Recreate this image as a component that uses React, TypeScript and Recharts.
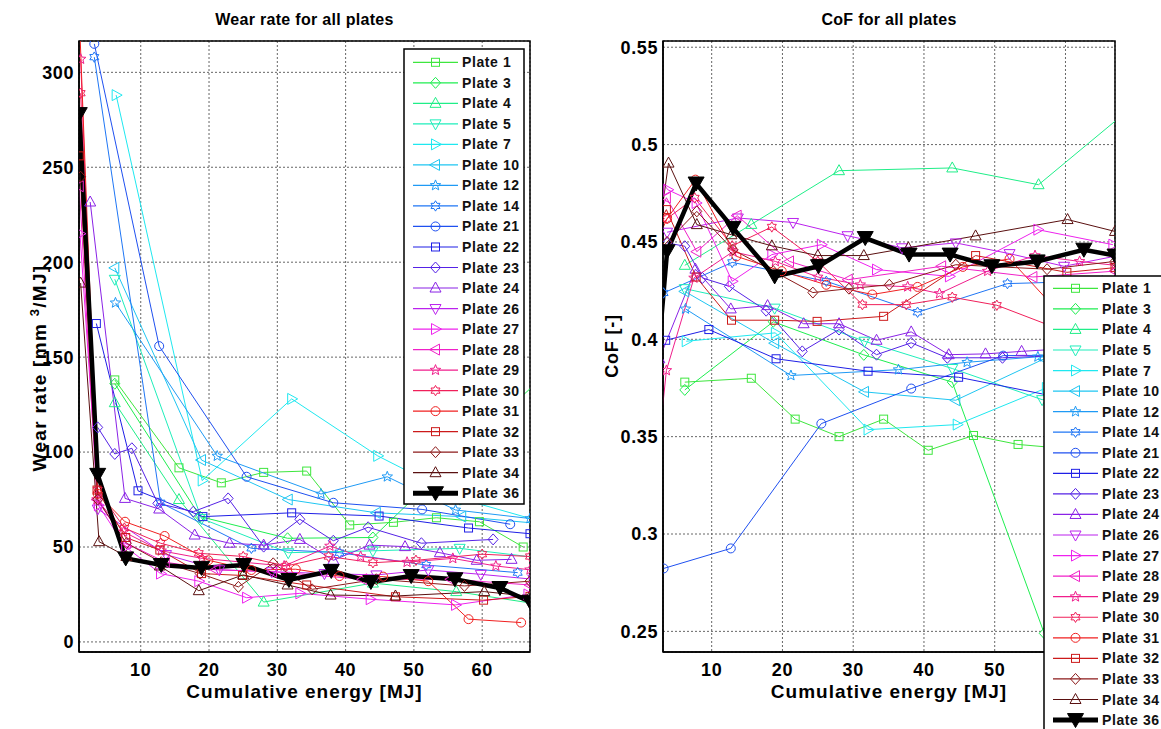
import React from 'react';
import { LineChart, Line, XAxis, YAxis, CartesianGrid, ReferenceArea } from 'recharts';

// ---------- data ----------
const xTicks = [10, 20, 30, 40, 50, 60];
const wearTicks = [0, 50, 100, 150, 200, 250, 300];
const cofTicks = [0.25, 0.3, 0.35, 0.4, 0.45, 0.5, 0.55];

const p1Energy = [6.2, 15.6, 21.8, 28.0, 34.3, 40.6, 47.0, 53.3, 59.6, 66.0];
const p1Wear = [138, 91.7, 83.8, 89.3, 90, 61.6, 63, 65.4, 63.3, 50];
const p1CoF = [0.378, 0.38, 0.359, 0.35, 0.359, 0.343, 0.3506, 0.346, 0.344, 0.342];

const p3Energy = [6.2, 18.7, 31.5, 44.0, 57.0, 69.0];
const p3Wear = [136, 66, 54.6, 55, 100, 140];
const p3CoF = [0.374, 0.409, 0.392, 0.378, 0.249, 0.26];

const p4Energy = [6.2, 15.6, 28.0, 44.0, 56.2, 68.0];
const p4Wear = [126, 75, 21, 31, 26.5, 20];
const p4CoF = [0.438, 0.459, 0.4866, 0.488, 0.4794, 0.515];

const p5Energy = [6.2, 18.9, 31.6, 44.0, 56.7, 69.0];
const p5Wear = [191, 65, 47, 48, 49.3, 44];
const p5CoF = [0.426, 0.416, 0.399, 0.385, 0.369, 0.37];

const p7Energy = [6.4, 19.0, 32.1, 44.7, 57.3, 70.0];
const p7Wear = [288, 85, 128, 98, 75, 62];
const p7CoF = [0.399, 0.4033, 0.3536, 0.3562, 0.375, 0.39];

const p10Energy = [6.2, 18.9, 31.6, 44.5, 57.0, 69.5];
const p10Wear = [197, 95.8, 75, 68, 66, 62];
const p10CoF = [0.4246, 0.398, 0.373, 0.3687, 0.39, 0.4];

const p12Energy = [6.3, 21.2, 36.4, 46.1, 56.1, 67.0];
const p12Wear = [178.6, 97.9, 77.9, 87, 69.5, 65];
const p12CoF = [0.4156, 0.3814, 0.3844, 0.3882, 0.391, 0.39];

const p14Energy = [3.2, 12.9, 26.2, 39.1, 51.8, 65.2];
const p14Wear = [308, 73.3, 49.3, 47, 40.5, 36.5];
const p14CoF = [0.4238, 0.4395, 0.4298, 0.4139, 0.4286, 0.43];

const p21Energy = [3.2, 12.7, 25.5, 38.2, 51.2, 64.1];
const p21Wear = [315, 155.8, 87, 73.3, 69.8, 62];
const p21CoF = [0.2823, 0.2926, 0.3567, 0.3747, 0.3916, 0.392];

const p22Energy = [3.5, 9.6, 19.1, 32.1, 44.9, 58.0, 67.0];
const p22Wear = [167.7, 79.6, 66, 68, 66.3, 60, 57];
const p22CoF = [0.3995, 0.405, 0.39, 0.3836, 0.3805, 0.371, 0.37];

const p23Energy = [3.7, 6.2, 8.7, 12.5, 17.7, 22.8, 28.0, 33.3, 38.2, 43.3, 51.1, 61.6];
const p23Wear = [113, 99, 102, 73, 68.6, 75.6, 50.2, 64.6, 53.3, 60.4, 52, 54];
const p23CoF = [0.4495, 0.4478, 0.4315, 0.4272, 0.4147, 0.3938, 0.405, 0.3921, 0.3982, 0.3905, 0.3905, 0.392];

const p24Energy = [2.6, 7.7, 12.7, 17.9, 23.0, 28.0, 33.3, 38.2, 43.5, 48.7, 53.8, 59.2, 64.3];
const p24Wear = [231.7, 75.6, 70, 56.3, 52, 51, 54, 43, 51, 50.2, 47, 43, 43.5];
const p24CoF = [0.39, 0.436, 0.4156, 0.4173, 0.408, 0.408, 0.3995, 0.4038, 0.3921, 0.3925, 0.3938, 0.395, 0.397];

const p26Energy = [3.7, 13.7, 21.5, 29.2, 36.9, 44.5, 52.1, 59.8, 67.5];
const p26Wear = [70, 46, 38, 37, 36, 35.3, 37.9, 35.6, 33];
const p26CoF = [0.455, 0.4623, 0.46, 0.4532, 0.447, 0.4495, 0.444, 0.4375, 0.443];

const p27Energy = [1.1, 3.8, 7.8, 12.9, 18.5, 25.5, 33.3, 43.6, 56.1, 66.7];
const p27Wear = [215, 72, 50, 36, 32, 23.3, 25.6, 22.5, 19.5, 25];
const p27CoF = [0.49, 0.4768, 0.47, 0.4298, 0.4435, 0.4486, 0.4358, 0.4323, 0.4563, 0.4486];

const p28Energy = [1.0, 3.6, 7.9, 13.6, 21.0, 29.3, 42.5, 55.4, 67.0];
const p28Wear = [240, 75, 52, 42, 38, 37, 33, 33, 30];
const p28CoF = [0.45, 0.4727, 0.445, 0.4635, 0.44, 0.4306, 0.4375, 0.432, 0.435];

const p29Energy = [1.2, 3.6, 7.5, 13.0, 19.0, 25.0, 31.0, 37.7, 42.2, 49.0, 55.7, 62.0, 67.0];
const p29Wear = [307, 75, 58, 48, 44, 42, 40, 50.5, 45, 42, 44, 40, 38];
const p29CoF = [0.3, 0.384, 0.4315, 0.445, 0.44, 0.432, 0.428, 0.427, 0.4235, 0.435, 0.443, 0.44, 0.438];

const p30Energy = [1.2, 3.7, 7.6, 12.9, 18.5, 25.0, 31.3, 37.5, 44.0, 50.3, 60.0, 67.0];
const p30Wear = [289, 80, 60, 52, 46.7, 45, 40, 45, 41.7, 43, 46.2, 45];
const p30CoF = [0.45, 0.462, 0.4726, 0.448, 0.4577, 0.44, 0.4178, 0.4178, 0.4216, 0.4175, 0.404, 0.4];

const p31Energy = [1.0, 3.7, 7.7, 13.5, 19.9, 26.2, 32.7, 39.1, 45.5, 52.1, 58.0, 65.7];
const p31Wear = [330, 78, 63.3, 55.8, 43, 37.9, 38.3, 34.7, 34.4, 32, 12, 10.2];
const p31CoF = [0.44, 0.462, 0.482, 0.4426, 0.435, 0.428, 0.423, 0.4269, 0.4372, 0.4413, 0.418, 0.41];

const p32Energy = [1.0, 3.6, 7.8, 12.8, 18.9, 24.9, 34.3, 47.3, 60.2, 67.0];
const p32Wear = [256, 80, 55, 48.4, 36, 35, 30, 23.8, 22, 24];
const p32CoF = [0.45, 0.4666, 0.432, 0.4098, 0.4098, 0.4092, 0.4118, 0.443, 0.4344, 0.4368];

const p33Energy = [1.2, 3.7, 7.9, 13.0, 18.7, 24.3, 29.4, 35.1, 44.5, 57.4, 67.0];
const p33Wear = [245, 75, 52, 42, 36, 29, 41.4, 27.7, 33, 29.5, 32];
const p33CoF = [0.44, 0.45, 0.4657, 0.446, 0.435, 0.424, 0.426, 0.428, 0.4383, 0.436, 0.44];

const p34Energy = [1.2, 3.9, 7.9, 12.8, 18.5, 25.0, 31.5, 37.8, 47.3, 60.3, 67.0];
const p34Wear = [189, 52.8, 45, 40, 27, 35.3, 30, 24.7, 24.2, 26.5, 24];
const p34CoF = [0.42, 0.4905, 0.4589, 0.4537, 0.448, 0.443, 0.443, 0.447, 0.4531, 0.4615, 0.4554];

const p36Energy = [1.0, 3.7, 7.8, 13.0, 18.9, 25.1, 31.7, 37.9, 43.7, 49.6, 56.0, 62.6, 67.0];
const p36Wear = [278, 88, 44, 40.5, 39, 40.5, 32.6, 37.4, 31.6, 34.7, 33, 28.4, 21.2];
const p36CoF = [0.33, 0.4452, 0.48, 0.4572, 0.4323, 0.4375, 0.452, 0.4435, 0.4435, 0.4375, 0.44, 0.446, 0.443];

type Shape = 'square' | 'diamond' | 'up' | 'down' | 'right' | 'left' | 'penta' | 'hexa' | 'circle' | 'bigdown';

interface Series { name: string; color: string; shape: Shape; energy: number[]; wear: number[]; cof: number[]; }

const series: Series[] = [
  { name: 'Plate 1', color: '#3ee63e', shape: 'square', energy: p1Energy, wear: p1Wear, cof: p1CoF },
  { name: 'Plate 3', color: '#1fee50', shape: 'diamond', energy: p3Energy, wear: p3Wear, cof: p3CoF },
  { name: 'Plate 4', color: '#1fee88', shape: 'up', energy: p4Energy, wear: p4Wear, cof: p4CoF },
  { name: 'Plate 5', color: '#1feebb', shape: 'down', energy: p5Energy, wear: p5Wear, cof: p5CoF },
  { name: 'Plate 7', color: '#1fe8f0', shape: 'right', energy: p7Energy, wear: p7Wear, cof: p7CoF },
  { name: 'Plate 10', color: '#1fc6f2', shape: 'left', energy: p10Energy, wear: p10Wear, cof: p10CoF },
  { name: 'Plate 12', color: '#1f9af5', shape: 'penta', energy: p12Energy, wear: p12Wear, cof: p12CoF },
  { name: 'Plate 14', color: '#1f76f5', shape: 'hexa', energy: p14Energy, wear: p14Wear, cof: p14CoF },
  { name: 'Plate 21', color: '#1f50f0', shape: 'circle', energy: p21Energy, wear: p21Wear, cof: p21CoF },
  { name: 'Plate 22', color: '#1f1fe6', shape: 'square', energy: p22Energy, wear: p22Wear, cof: p22CoF },
  { name: 'Plate 23', color: '#5522e6', shape: 'diamond', energy: p23Energy, wear: p23Wear, cof: p23CoF },
  { name: 'Plate 24', color: '#8a22e6', shape: 'up', energy: p24Energy, wear: p24Wear, cof: p24CoF },
  { name: 'Plate 26', color: '#bb22ee', shape: 'down', energy: p26Energy, wear: p26Wear, cof: p26CoF },
  { name: 'Plate 27', color: '#ee22ee', shape: 'right', energy: p27Energy, wear: p27Wear, cof: p27CoF },
  { name: 'Plate 28', color: '#f020c8', shape: 'left', energy: p28Energy, wear: p28Wear, cof: p28CoF },
  { name: 'Plate 29', color: '#f01e8c', shape: 'penta', energy: p29Energy, wear: p29Wear, cof: p29CoF },
  { name: 'Plate 30', color: '#f0205a', shape: 'hexa', energy: p30Energy, wear: p30Wear, cof: p30CoF },
  { name: 'Plate 31', color: '#f02020', shape: 'circle', energy: p31Energy, wear: p31Wear, cof: p31CoF },
  { name: 'Plate 32', color: '#cc1a1a', shape: 'square', energy: p32Energy, wear: p32Wear, cof: p32CoF },
  { name: 'Plate 33', color: '#8c1a1a', shape: 'diamond', energy: p33Energy, wear: p33Wear, cof: p33CoF },
  { name: 'Plate 34', color: '#5a1010', shape: 'up', energy: p34Energy, wear: p34Wear, cof: p34CoF },
  { name: 'Plate 36', color: '#000000', shape: 'bigdown', energy: p36Energy, wear: p36Wear, cof: p36CoF },
];

// ---------- styling ----------
const FONT = '"Liberation Sans", Arial, sans-serif';
const W_X_DOMAIN: [number, number] = [0.96, 67.0];
const W_Y_DOMAIN: [number, number] = [-5.3, 316.5];
const C_X_DOMAIN: [number, number] = [3.12, 67.0];
const C_Y_DOMAIN: [number, number] = [0.2394, 0.5532];

function starPoints(cx: number, cy: number, n: number, R: number, r: number) {
  const pts: string[] = [];
  for (let k = 0; k < 2 * n; k++) {
    const a = -Math.PI / 2 + (k * Math.PI) / n;
    const rad = k % 2 === 0 ? R : r;
    pts.push(`${cx + rad * Math.cos(a)},${cy + rad * Math.sin(a)}`);
  }
  return pts.join(' ');
}

function Marker({ cx, cy, shape, color }: { cx: number; cy: number; shape: Shape; color: string }) {
  if (cx == null || cy == null || isNaN(cx) || isNaN(cy)) return null;
  const common = { fill: 'none', stroke: color, strokeWidth: 1 };
  switch (shape) {
    case 'square':
      return <rect x={cx - 4} y={cy - 4} width={8} height={8} {...common} />;
    case 'diamond':
      return <polygon points={`${cx},${cy - 5.5} ${cx + 5},${cy} ${cx},${cy + 5.5} ${cx - 5},${cy}`} {...common} />;
    case 'up':
      return <polygon points={`${cx},${cy - 6} ${cx + 5.5},${cy + 4} ${cx - 5.5},${cy + 4}`} {...common} />;
    case 'down':
      return <polygon points={`${cx},${cy + 6} ${cx + 5.5},${cy - 4} ${cx - 5.5},${cy - 4}`} {...common} />;
    case 'right':
      return <polygon points={`${cx + 6},${cy} ${cx - 4},${cy - 5.5} ${cx - 4},${cy + 5.5}`} {...common} />;
    case 'left':
      return <polygon points={`${cx - 6},${cy} ${cx + 4},${cy - 5.5} ${cx + 4},${cy + 5.5}`} {...common} />;
    case 'penta':
      return <polygon points={starPoints(cx, cy, 5, 5.5, 2.4)} {...common} />;
    case 'hexa':
      return <polygon points={starPoints(cx, cy, 6, 5.2, 3.0)} {...common} />;
    case 'circle':
      return <circle cx={cx} cy={cy} r={4.5} {...common} />;
    case 'bigdown':
      return <polygon points={`${cx - 8},${cy - 6.5} ${cx + 8},${cy - 6.5} ${cx},${cy + 7.5}`} fill={color} stroke={color} strokeWidth={1} />;
    default:
      return null;
  }
}

const tickStyle = { fill: '#000', fontSize: 18, fontWeight: 700, fontFamily: FONT, letterSpacing: 0.6 };
const emptyTick = () => <g />;

function Panel({ kind }: { kind: 'wear' | 'cof' }) {
  const isWear = kind === 'wear';
  const xDom = isWear ? W_X_DOMAIN : C_X_DOMAIN;
  const yDom = isWear ? W_Y_DOMAIN : C_Y_DOMAIN;
  const yTicks = isWear ? wearTicks : cofTicks;
  const width = isWear ? 580 : 581;
  const yAxisWidth = isWear ? 79 : 83;
  const rightMargin = isWear ? 50 : 46;
  const innerTick = { stroke: '#000', strokeWidth: 1 };
  return (
    <LineChart width={width} height={729} margin={{ top: 41, right: rightMargin, bottom: 17, left: 0 }}>
      <CartesianGrid stroke="#666" strokeDasharray="2 2" strokeWidth={1} />
      <XAxis
        dataKey="x"
        type="number"
        domain={xDom}
        allowDataOverflow
        ticks={xTicks}
        tick={tickStyle}
        tickLine={false}
        tickSize={5}
        tickMargin={6}
        height={60}
        axisLine={{ stroke: '#000', strokeWidth: 1.5 }}
      />
      <XAxis xAxisId="bin" type="number" domain={xDom} allowDataOverflow ticks={xTicks} mirror orientation="bottom" height={0}
        tick={emptyTick} tickLine={innerTick} tickSize={5} axisLine={false} />
      <XAxis xAxisId="tin" type="number" domain={xDom} allowDataOverflow ticks={xTicks} mirror orientation="top" height={0}
        tick={emptyTick} tickLine={innerTick} tickSize={5} axisLine={false} />
      <YAxis
        type="number"
        domain={yDom}
        allowDataOverflow
        ticks={yTicks}
        tick={tickStyle}
        tickLine={false}
        tickSize={2}
        tickMargin={3}
        width={yAxisWidth}
        axisLine={{ stroke: '#000', strokeWidth: 1.5 }}
      />
      <YAxis yAxisId="lin" type="number" domain={yDom} allowDataOverflow ticks={yTicks} mirror orientation="left" width={0}
        tick={emptyTick} tickLine={innerTick} tickSize={5} axisLine={false} />
      <YAxis yAxisId="rin" type="number" domain={yDom} allowDataOverflow ticks={yTicks} mirror orientation="right" width={0}
        tick={emptyTick} tickLine={innerTick} tickSize={5} axisLine={false} />
      <ReferenceArea x1={xDom[0]} x2={xDom[1]} y1={yDom[0]} y2={yDom[1]} fill="none" stroke="#000" strokeWidth={1.5} fillOpacity={0} />
      {series.map((s) => {
        const data = s.energy.map((x, i) => ({ x, y: isWear ? s.wear[i] : s.cof[i] }));
        const big = s.shape === 'bigdown';
        return (
          <Line
            key={s.name + kind}
            data={data}
            dataKey="y"
            name={s.name}
            type="linear"
            stroke={s.color}
            strokeWidth={big ? 4.5 : 1}
            isAnimationActive={false}
            activeDot={false}
            dot={(p: any) => <Marker key={`${s.name}-${kind}-${p.index}`} cx={p.cx} cy={p.cy} shape={s.shape} color={s.color} />}
          />
        );
      })}
    </LineChart>
  );
}

function LegendBox({ x, y, w, h, rowStart, step, lx1, lx2, tx }: { x: number; y: number; w: number; h: number; rowStart: number; step: number; lx1: number; lx2: number; tx: number }) {
  return (
    <g>
      <rect x={x} y={y} width={w} height={h} fill="#fff" stroke="#000" strokeWidth={1.5} />
      {series.map((s, i) => {
        const cy = rowStart + i * step;
        const big = s.shape === 'bigdown';
        return (
          <g key={s.name}>
            <line x1={lx1} x2={lx2} y1={cy} y2={cy} stroke={s.color} strokeWidth={big ? 5 : 1.2} />
            <Marker cx={(lx1 + lx2) / 2} cy={cy} shape={s.shape} color={s.color} />
            <text x={tx} y={cy + 5} fontSize={14} fontWeight={700} fontFamily={FONT} fill="#111" letterSpacing={0.6}>
              {s.name}
            </text>
          </g>
        );
      })}
    </g>
  );
}

export default function App() {
  const labelStyle = { fontFamily: FONT, fontWeight: 700, fill: '#000' } as const;
  return (
    <div style={{ position: 'absolute', left: 0, top: 0, width: 1161, height: 729, overflow: 'hidden', background: '#fff' }}>
      <div style={{ position: 'absolute', left: 0, top: 0 }}>
        <Panel kind="wear" />
      </div>
      <div style={{ position: 'absolute', left: 580, top: 0 }}>
        <Panel kind="cof" />
      </div>
      <svg width={1161} height={729} style={{ position: 'absolute', left: 0, top: 0, pointerEvents: 'none' }}>
        <text x={304.5} y={25} textAnchor="middle" fontSize={16} letterSpacing={0.3} {...labelStyle}>Wear rate for all plates</text>
        <text x={889} y={25} textAnchor="middle" fontSize={16} letterSpacing={0.3} {...labelStyle}>CoF for all plates</text>
        <text x={304.5} y={698} textAnchor="middle" fontSize={19} letterSpacing={1} {...labelStyle}>Cumulative energy [MJ]</text>
        <text x={889} y={698} textAnchor="middle" fontSize={19} letterSpacing={1} {...labelStyle}>Cumulative energy [MJ]</text>
        <text transform="translate(46,368) rotate(-90)" textAnchor="middle" fontSize={19} letterSpacing={1.3} {...labelStyle}>
          Wear rate [mm <tspan dy={-7} fontSize={13}>3</tspan><tspan dy={7}>/MJ]</tspan>
        </text>
        <text transform="translate(618,346) rotate(-90)" textAnchor="middle" fontSize={18} letterSpacing={0.8} {...labelStyle}>CoF [-]</text>
        <LegendBox x={404} y={49} w={120} h={455} rowStart={62.3} step={20.52} lx1={413} lx2={458} tx={462} />
        <LegendBox x={1044} y={276} w={140} h={470} rowStart={288.3} step={20.56} lx1={1053} lx2={1098} tx={1102} />
      </svg>
    </div>
  );
}
